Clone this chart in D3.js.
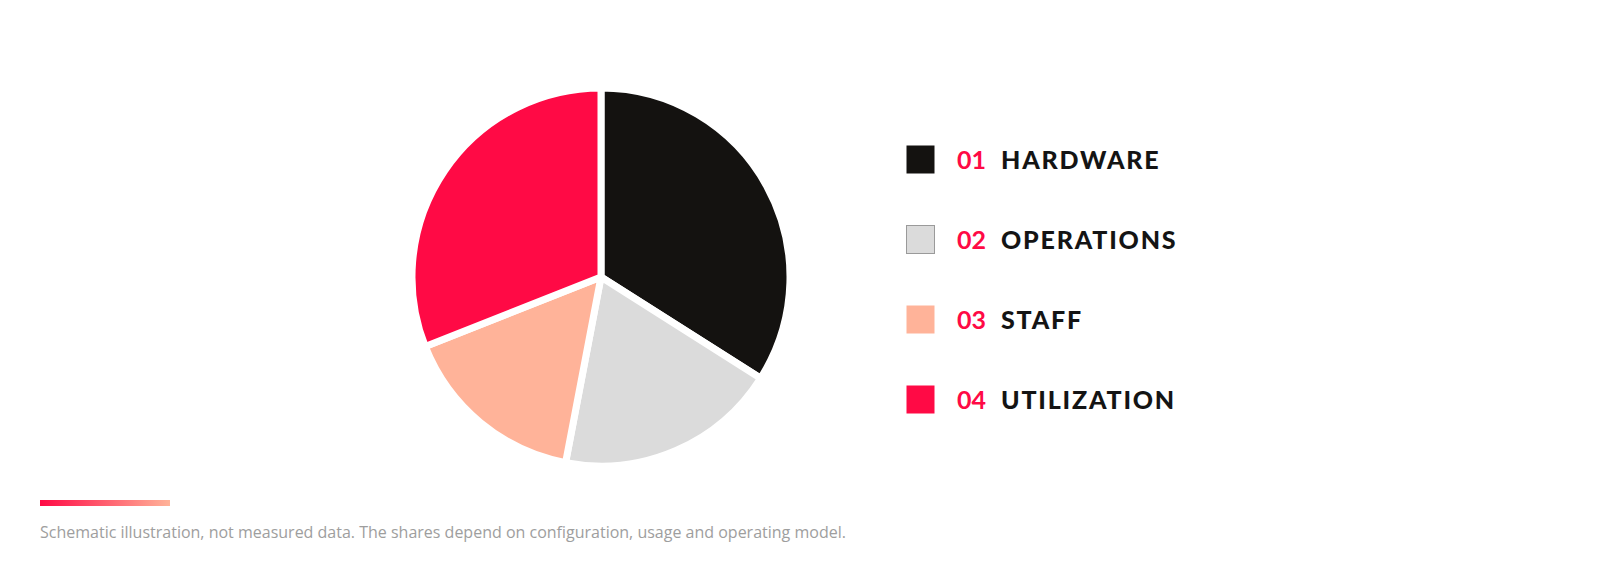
<!DOCTYPE html>
<html>
<head>
<meta charset="utf-8">
<script src="https://cdn.jsdelivr.net/npm/d3@7"></script>
<style>
  body { margin: 0; background: #fff; }
  svg { display: block; }
</style>
</head>
<body>
<svg id="chart" width="1600" height="580"></svg>
<script>
// shares of total cost (schematic)
const categories = ['HARDWARE', 'OPERATIONS', 'STAFF', 'UTILIZATION'];
const numbers = ['01', '02', '03', '04'];
const shares = [34, 19, 16, 31];
const colors = ['#141210', '#dbdbdb', '#ffb399', '#ff0a45'];
const note = 'Schematic illustration, not measured data. The shares depend on configuration, usage and operating model.';

const svg = d3.select('#chart');

const data = categories.map((c, i) => ({ name: c, num: numbers[i], value: shares[i], color: colors[i] }));

// pie
const pie = d3.pie().sort(null).value(d => d.value);
const arc = d3.arc().innerRadius(0).outerRadius(189);

const g = svg.append('g').attr('transform', 'translate(601,277)');
g.selectAll('path')
    .data(pie(data))
    .enter()
    .append('path')
    .attr('d', arc)
    .attr('fill', d => d.data.color)
    .attr('stroke', '#fff')
    .attr('stroke-width', 7)
    .attr('stroke-linejoin', 'round');

// legend
const y = d3.scalePoint().domain(categories).range([159.5, 399.5]);
const legend = svg.append('g').attr('class', 'legend')
    .selectAll('g')
    .data(data)
    .enter()
    .append('g')
    .attr('transform', d => `translate(906,${y(d.name)})`);

legend.append('rect')
    .attr('x', 0.5)
    .attr('y', -14)
    .attr('width', 28)
    .attr('height', 28)
    .attr('fill', d => d.color)
    .attr('stroke', d => d.name === 'OPERATIONS' ? '#9a9a9a' : 'none')
    .attr('stroke-width', 1);

const label = legend.append('text')
    .attr('x', 51)
    .attr('y', 9)
    .style('font-family', 'Lato, sans-serif')
    .style('font-weight', 900)
    .style('font-size', '25px');

label.append('tspan')
    .attr('fill', '#ff0a45')
    .style('font-weight', 700)
    .text(d => d.num);
label.append('tspan')
    .attr('dx', 15)
    .attr('fill', '#141414')
    .style('letter-spacing', '1.8px')
    .text(d => d.name);

// footnote
const grad = svg.append('defs').append('linearGradient').attr('id', 'bar-grad');
grad.append('stop').attr('offset', '0%').attr('stop-color', '#ff0a45');
grad.append('stop').attr('offset', '100%').attr('stop-color', '#ffb399');

svg.append('rect')
    .attr('x', 40)
    .attr('y', 500)
    .attr('width', 130)
    .attr('height', 6)
    .attr('fill', 'url(#bar-grad)');

svg.append('text')
    .attr('x', 40)
    .attr('y', 538)
    .attr('fill', '#9e9e9e')
    .style('font-family', '"Open Sans", sans-serif')
    .style('font-size', '16px')
    .text(note);
</script>
</body>
</html>
